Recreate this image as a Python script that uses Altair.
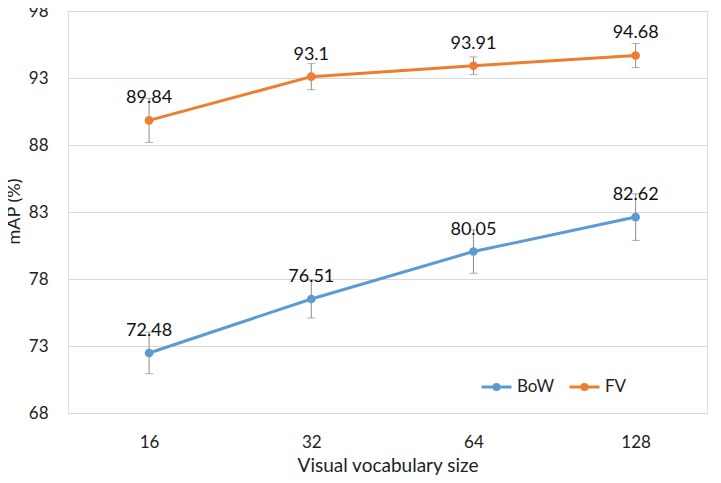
import altair as alt
import pandas as pd

categories = ["16", "32", "64", "128"]
series_names = ["BoW", "FV"]
bow_values = [72.48, 76.51, 80.05, 82.62]
fv_values = [89.84, 93.1, 93.91, 94.68]
bow_errors = [1.55, 1.42, 1.62, 1.74]
fv_errors = [1.65, 0.97, 0.66, 0.9]
y_ticks = [68, 73, 78, 83, 88, 93, 98]

rows = []
for name, vals, errs in [("BoW", bow_values, bow_errors), ("FV", fv_values, fv_errors)]:
    for i, (c, v, e) in enumerate(zip(categories, vals, errs)):
        rows.append({"series": name, "cat": c, "idx": i, "value": v,
                     "lo": v - e, "hi": v + e, "label": f"{v:g}"})
df = pd.DataFrame(rows)

FONT = "Lato"
colors = ["#5B9BD5", "#ED7D31"]
label_expr = "[" + ",".join(f"'{c}'" for c in categories) + "][datum.value]"

x = alt.X("idx:Q", scale=alt.Scale(domain=[-0.5, 3.44], nice=False, zero=False),
          axis=alt.Axis(values=[0, 1, 2, 3], labelExpr=label_expr, grid=False, ticks=False,
                        domain=False, title="Visual vocabulary size", labelFontSize=17,
                        labelPadding=21, titleFontSize=19, titleY=58,
                        titleBaseline="alphabetic",
                        labelColor="#222", titleColor="#222", labelFont=FONT, titleFont=FONT,
                        titleFontWeight="normal"))
y_scale = alt.Scale(domain=[68, 98], nice=False, zero=False)
y = alt.Y("value:Q", scale=y_scale,
          axis=alt.Axis(values=y_ticks, grid=True, gridColor="#D9D9D9", ticks=False,
                        domain=False, title="mAP (%)", labelFontSize=17, labelPadding=20,
                        titleFontSize=18, titleX=-45, titleY=200, titleAngle=-90,
                        titleAlign="center", titleBaseline="bottom", labelColor="#222",
                        titleColor="#222", labelFont=FONT, titleFont=FONT,
                        titleFontWeight="normal"))

legend_path = "M-1,0L1,0M-0.17,0A0.17,0.17,0,1,1,0.17,0A0.17,0.17,0,1,1,-0.17,0Z"
color = alt.Color("series:N", scale=alt.Scale(domain=series_names, range=colors),
                  legend=alt.Legend(orient="none", legendX=412, legendY=359,
                                    direction="horizontal", title=None,
                                    symbolType=legend_path, symbolSize=900,
                                    symbolStrokeWidth=3, labelFontSize=17,
                                    labelFont=FONT, labelColor="#222",
                                    columnPadding=8, labelOffset=4))

base = alt.Chart(df)

lines = base.mark_line(strokeWidth=3).encode(x=x, y=y, color=color, detail="series:N")

errbars = base.mark_rule(color="#8C8C8C", strokeWidth=1).encode(
    x="idx:Q", y=alt.Y("lo:Q", scale=y_scale), y2="hi:Q")
caps_lo = base.mark_tick(orient="horizontal", color="#8C8C8C", size=8, thickness=1).encode(
    x="idx:Q", y=alt.Y("lo:Q", scale=y_scale))
caps_hi = base.mark_tick(orient="horizontal", color="#8C8C8C", size=8, thickness=1).encode(
    x="idx:Q", y=alt.Y("hi:Q", scale=y_scale))

points = base.mark_point(filled=True, size=75, opacity=1).encode(
    x="idx:Q", y=alt.Y("value:Q", scale=y_scale), color=color)

labels = base.mark_text(fontSize=18, font=FONT, color="#111", dy=-17, baseline="alphabetic").encode(
    x="idx:Q", y=alt.Y("value:Q", scale=y_scale), text="label:N")

chart = alt.layer(lines, errbars, caps_lo, caps_hi, points, labels).properties(
    width=639, height=402,
    autosize=alt.AutoSizeParams(type="none"),
    padding={"left": 60, "top": 3, "right": 6, "bottom": 62},
).configure_view(stroke="#D9D9D9", strokeWidth=1).configure(background="white")

chart.save("out.html", embed_options={"renderer": "svg", "actions": False})
